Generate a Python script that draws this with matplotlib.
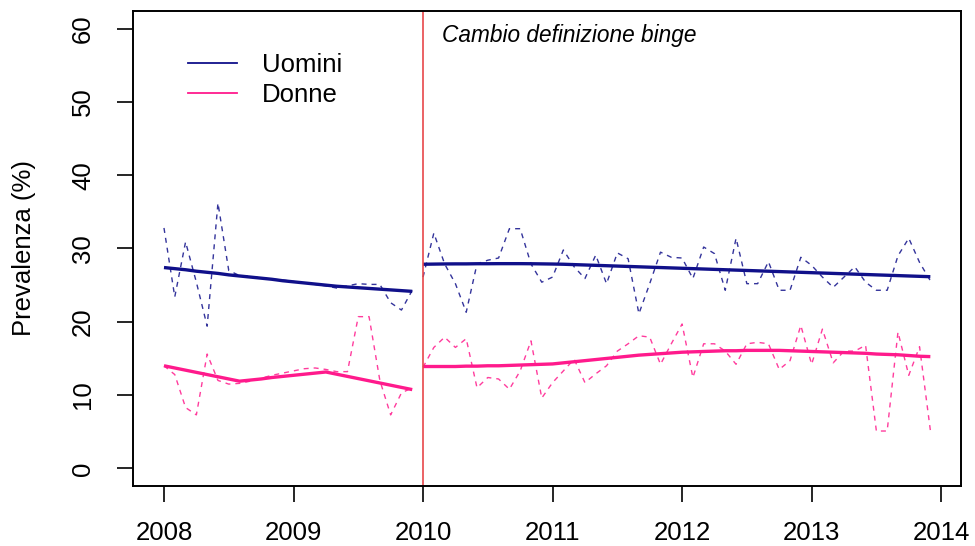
import matplotlib.pyplot as plt
from matplotlib.lines import Line2D
import numpy as np

plt.rcParams['font.family'] = ['Liberation Sans', 'DejaVu Sans']

# mesi come anni decimali (2008-2009 e 2010-2013)
t1 = 2008 + np.arange(24) / 12
t2 = 2010 + np.arange(48) / 12

# prevalenza mensile osservata (%)
uomini_1 = [32.8, 23.4, 30.9, 25.4, 19.4, 36.2, 27.0, 26.3, 26.2, 26.0, 25.8, 25.7,
            25.5, 25.3, 25.1, 24.9, 24.6, 24.9, 25.2, 25.1, 25.1, 22.6, 21.6, 24.3]
donne_1 = [14.0, 12.8, 8.3, 7.3, 15.6, 12.0, 11.5, 11.6, 11.9, 12.3, 12.7, 13.0,
           13.3, 13.6, 13.7, 13.5, 13.2, 13.2, 20.7, 20.7, 12.0, 7.3, 10.3, 11.0]
uomini_2 = [26.1, 32.1, 27.9, 25.2, 21.3, 27.9, 28.4, 28.7, 32.7, 32.7, 27.9, 25.4,
            26.1, 29.8, 27.5, 25.9, 29.1, 25.2, 29.4, 28.6, 21.1, 25.2, 29.5, 28.8,
            28.7, 25.9, 30.2, 29.3, 24.3, 31.4, 25.2, 25.2, 28.2, 24.3, 24.3, 28.8,
            27.7, 26.1, 24.7, 26.1, 27.5, 25.4, 24.3, 24.3, 29.0, 31.4, 28.1, 25.6]
donne_2 = [13.8, 16.5, 17.9, 16.5, 17.7, 11.0, 12.4, 12.2, 10.8, 13.3, 17.4, 9.6,
           11.7, 13.3, 14.9, 11.7, 12.9, 14.0, 16.0, 17.0, 18.1, 17.9, 14.2, 17.0,
           19.7, 12.4, 17.0, 17.0, 16.0, 14.2, 17.0, 17.2, 17.0, 13.5, 14.7, 19.5,
           14.2, 19.0, 14.4, 16.0, 16.0, 16.8, 5.1, 5.1, 18.6, 12.7, 16.6, 5.2]

# trend lisciato
trend_u1 = [27.4, 27.25, 27.1, 26.9, 26.75, 26.6, 26.4, 26.25, 26.1, 25.95, 25.8, 25.6,
            25.45, 25.3, 25.15, 25.0, 24.85, 24.75, 24.65, 24.55, 24.45, 24.35, 24.25, 24.15]
trend_d1 = [14.0, 13.7, 13.4, 13.1, 12.8, 12.5, 12.2, 11.9, 12.05, 12.2, 12.4, 12.55,
            12.7, 12.85, 13.0, 13.15, 12.85, 12.55, 12.25, 11.95, 11.65, 11.35, 11.05, 10.75]
trend_u2 = [27.85, 27.87, 27.89, 27.9, 27.9, 27.92, 27.92, 27.93, 27.93, 27.93, 27.92, 27.9,
            27.88, 27.85, 27.8, 27.75, 27.7, 27.65, 27.6, 27.55, 27.5, 27.45, 27.4, 27.35,
            27.3, 27.25, 27.2, 27.15, 27.1, 27.05, 27.0, 26.95, 26.9, 26.85, 26.8, 26.75,
            26.7, 26.65, 26.6, 26.55, 26.5, 26.45, 26.4, 26.35, 26.3, 26.25, 26.2, 26.15]
trend_d2 = [13.9, 13.9, 13.9, 13.9, 13.95, 13.95, 14.0, 14.0, 14.05, 14.1, 14.15, 14.2,
            14.25, 14.4, 14.55, 14.7, 14.85, 15.0, 15.15, 15.3, 15.45, 15.55, 15.65, 15.75,
            15.85, 15.9, 15.95, 16.0, 16.05, 16.05, 16.1, 16.1, 16.1, 16.1, 16.05, 16.0,
            15.95, 15.9, 15.85, 15.8, 15.75, 15.7, 15.6, 15.55, 15.5, 15.4, 15.3, 15.25]

NAVY = '#10108a'
PINK = '#ff1a8c'
dash = (0, (3.6, 3.6))

fig = plt.figure(figsize=(9.75, 5.46), dpi=100)
ax = fig.add_axes([0.1367, 0.1099, 0.8489, 0.87])

for t, u, d in [(t1, uomini_1, donne_1), (t2, uomini_2, donne_2)]:
    ax.plot(t, u, color=NAVY, lw=1.0, ls=dash, alpha=0.85)
    ax.plot(t, d, color=PINK, lw=1.0, ls=dash, alpha=0.85)
for t, u, d in [(t1, trend_u1, trend_d1), (t2, trend_u2, trend_d2)]:
    ax.plot(t, u, color=NAVY, lw=2.4, solid_capstyle='butt')
    ax.plot(t, d, color=PINK, lw=2.4, solid_capstyle='butt')

ax.axvline(2010, color='#e8474a', lw=1.2)
ax.text(2010.15, 58.1, 'Cambio definizione binge', style='italic',
        fontsize=16.3, va='baseline', ha='left')

ax.set_xlim(2007.763, 2014.153)
ax.set_ylim(-2.4, 62.4)
ax.set_xticks(range(2008, 2015))
ax.set_yticks(range(0, 61, 10))
ax.tick_params(length=11.5, width=1.2, labelsize=18.5)
ax.tick_params(axis='x', pad=13.5)
ax.tick_params(axis='y', pad=16)
for lab in ax.get_yticklabels():
    lab.set_rotation(90)
    lab.set_va('center')
for s in ax.spines.values():
    s.set_linewidth(1.4)

ax.set_ylabel('Prevalenza (%)', fontsize=18.5)
ax.yaxis.set_label_coords(-0.118, 0.5)

handles = [Line2D([], [], color=NAVY, lw=1.3), Line2D([], [], color=PINK, lw=1.3)]
ax.legend(handles, ['Uomini', 'Donne'], loc='upper left', frameon=False,
          bbox_to_anchor=(0.1928, 0.903), bbox_transform=fig.transFigure,
          fontsize=18.5, handlelength=1.9, handletextpad=0.97,
          labelspacing=0.22, borderpad=0, borderaxespad=0)

fig.savefig('out.png', dpi=100)
